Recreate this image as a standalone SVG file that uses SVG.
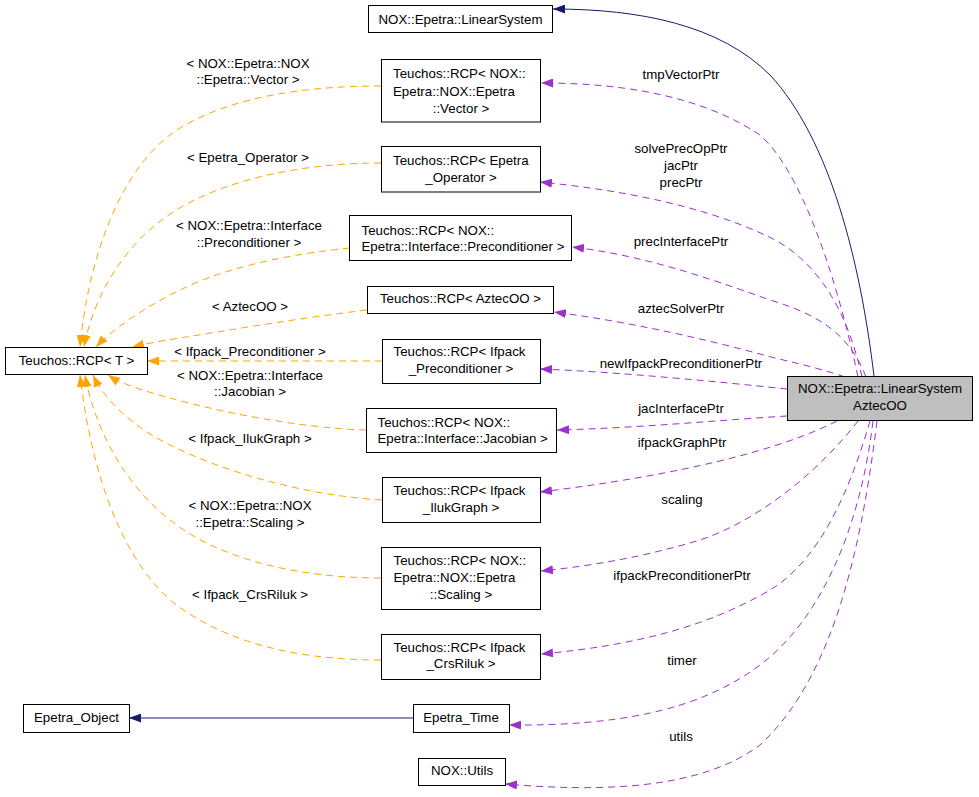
<svg xmlns="http://www.w3.org/2000/svg" width="979" height="797" viewBox="0 0 979 797">
<style>
text{font-family:"Liberation Sans",Arial,sans-serif;font-size:13.3px;fill:#000}
.m{text-anchor:middle}
.s{text-anchor:start}
.box{fill:#fff;stroke:#000;stroke-width:1}
.main{fill:#bfbfbf;stroke:#000;stroke-width:1}
.ep{fill:none;stroke:#9a32cd;stroke-width:1;stroke-dasharray:7,5}
.eo{fill:none;stroke:#ffa500;stroke-width:1;stroke-dasharray:7,5}
.eb{fill:none;stroke:#191970;stroke-width:1}
</style>
<defs>
<marker id="ap" viewBox="0 0 12 9" refX="12" refY="4.5" markerWidth="12" markerHeight="9" markerUnits="userSpaceOnUse" orient="auto"><path d="M0,0 L12,4.5 L0,9 z" fill="#9a32cd"/></marker>
<marker id="ao" viewBox="0 0 12 9" refX="12" refY="4.5" markerWidth="12" markerHeight="9" markerUnits="userSpaceOnUse" orient="auto"><path d="M0,0 L12,4.5 L0,9 z" fill="#ffa500"/></marker>
<marker id="ab" viewBox="0 0 12 9" refX="12" refY="4.5" markerWidth="12" markerHeight="9" markerUnits="userSpaceOnUse" orient="auto"><path d="M0,0 L12,4.5 L0,9 z" fill="#191970"/></marker>
</defs>
<rect width="979" height="797" fill="#fff"/>
<g id="edges">
<path class="eb" d="M874,376 C860,260 830,140 770,75 C720,25 640,9 553,9" marker-end="url(#ab)"/>
<path class="eb" d="M413,718 L129,718" marker-end="url(#ab)"/>
<path class="ep" d="M858,377 C835,270 800,170 760,135 C700,95 620,83 541,83" marker-end="url(#ap)"/>
<path class="ep" d="M862,377 C845,300 810,255 765,235 C700,205 620,190 540,182" marker-end="url(#ap)"/>
<path class="ep" d="M866,377 C850,335 820,315 770,300 C700,275 640,255 572,247" marker-end="url(#ap)"/>
<path class="ep" d="M845,377 C810,365 780,360 760,354 C700,338 630,322 554,312" marker-end="url(#ap)"/>
<path class="ep" d="M787,389 C720,382 620,372 540,369" marker-end="url(#ap)"/>
<path class="ep" d="M787,416 C720,420 640,428 557,430" marker-end="url(#ap)"/>
<path class="ep" d="M837,421 C780,450 680,475 540,492" marker-end="url(#ap)"/>
<path class="ep" d="M858,421 C820,470 760,520 700,540 C650,555 600,565 541,571" marker-end="url(#ap)"/>
<path class="ep" d="M870,421 C850,490 820,560 770,590 C710,625 640,645 541,654" marker-end="url(#ap)"/>
<path class="ep" d="M873,421 C860,530 820,620 760,665 C700,710 620,726 509,725" marker-end="url(#ap)"/>
<path class="ep" d="M877,421 C860,560 830,680 760,745 C700,790 600,792 505,784" marker-end="url(#ap)"/>
<path class="eo" d="M381,86 C300,86 230,98 180,128 C120,165 88,260 80,347" marker-end="url(#ao)"/>
<path class="eo" d="M381,163 C300,163 230,180 185,205 C130,235 95,290 84,347" marker-end="url(#ao)"/>
<path class="eo" d="M350,248 C280,255 220,270 180,290 C140,310 112,330 96,347" marker-end="url(#ao)"/>
<path class="eo" d="M367,310 C300,318 230,330 180,338 C160,341 145,344 132,347" marker-end="url(#ao)"/>
<path class="eo" d="M382,361 L147,361" marker-end="url(#ao)"/>
<path class="eo" d="M366,430 C300,428 220,412 170,398 C140,390 120,383 108,375" marker-end="url(#ao)"/>
<path class="eo" d="M382,500 C300,495 220,470 170,445 C130,425 105,400 93,375" marker-end="url(#ao)"/>
<path class="eo" d="M381,578 C300,578 220,560 170,520 C125,485 95,430 85,375" marker-end="url(#ao)"/>
<path class="eo" d="M381,660 C290,660 220,640 170,600 C115,550 90,460 80,375" marker-end="url(#ao)"/>
<g class="lbl">
<text class="m" x="681" y="79.3">tmpVectorPtr</text>
<text class="m" x="681" y="153">solvePrecOpPtr</text>
<text class="m" x="681" y="170">jacPtr</text>
<text class="m" x="681" y="187">precPtr</text>
<text class="m" x="681" y="246">precInterfacePtr</text>
<text class="m" x="681" y="313.3">aztecSolverPtr</text>
<text class="m" x="681" y="368.3">newIfpackPreconditionerPtr</text>
<text class="m" x="681" y="413.3">jacInterfacePtr</text>
<text class="m" x="682" y="446.7">ifpackGraphPtr</text>
<text class="m" x="682" y="504">scaling</text>
<text class="m" x="682" y="580">ifpackPreconditionerPtr</text>
<text class="m" x="682" y="665">timer</text>
<text class="m" x="681" y="741">utils</text>
<text class="m" x="248" y="67.5">&lt; NOX::Epetra::NOX</text>
<text class="m" x="248" y="84">::Epetra::Vector &gt;</text>
<text class="m" x="248" y="161.7">&lt; Epetra_Operator &gt;</text>
<text class="m" x="249" y="230">&lt; NOX::Epetra::Interface</text>
<text class="m" x="249" y="246.7">::Preconditioner &gt;</text>
<text class="m" x="250" y="310.7">&lt; AztecOO &gt;</text>
<text class="m" x="250" y="356">&lt; Ifpack_Preconditioner &gt;</text>
<text class="m" x="250" y="380">&lt; NOX::Epetra::Interface</text>
<text class="m" x="250" y="396">::Jacobian &gt;</text>
<text class="m" x="250" y="443.3">&lt; Ifpack_IlukGraph &gt;</text>
<text class="m" x="250" y="510">&lt; NOX::Epetra::NOX</text>
<text class="m" x="250" y="527.3">::Epetra::Scaling &gt;</text>
<text class="m" x="250" y="599.3">&lt; Ifpack_CrsRiluk &gt;</text>
</g>
</g>
<g id="n_main">
<rect class="main" x="787.5" y="376.5" width="185" height="44"/>
<text class="m" x="880" y="393.3">NOX::Epetra::LinearSystem</text>
<text class="m" x="880" y="410">AztecOO</text>
</g>
<g id="n_linsys">
<rect class="box" x="368.5" y="5.5" width="184" height="27"/>
<text class="m" x="460.5" y="23.5">NOX::Epetra::LinearSystem</text>
</g>
<g id="n_vector">
<rect class="box" x="381.5" y="59.5" width="159" height="62.5"/>
<text class="s" x="393" y="78">Teuchos::RCP&lt; NOX::</text>
<text class="s" x="393" y="95.5">Epetra::NOX::Epetra</text>
<text class="m" x="461" y="113">::Vector &gt;</text>
</g>
<g id="n_operator">
<rect class="box" x="381.5" y="146.5" width="159" height="45.5"/>
<text class="s" x="393" y="165">Teuchos::RCP&lt; Epetra</text>
<text class="m" x="461" y="181.5">_Operator &gt;</text>
</g>
<g id="n_precif">
<rect class="box" x="349.5" y="215.5" width="222" height="45"/>
<text class="s" x="361.5" y="234.5">Teuchos::RCP&lt; NOX::</text>
<text class="s" x="361.5" y="251">Epetra::Interface::Preconditioner &gt;</text>
</g>
<g id="n_aztec">
<rect class="box" x="367.5" y="286.5" width="186" height="27"/>
<text class="m" x="460.5" y="303.3">Teuchos::RCP&lt; AztecOO &gt;</text>
</g>
<g id="n_ifprec">
<rect class="box" x="382.5" y="339.5" width="158" height="44"/>
<text class="s" x="393.5" y="356">Teuchos::RCP&lt; Ifpack</text>
<text class="m" x="461" y="372.7">_Preconditioner &gt;</text>
</g>
<g id="n_jac">
<rect class="box" x="366.5" y="408.5" width="190" height="44"/>
<text class="s" x="377.5" y="426.7">Teuchos::RCP&lt; NOX::</text>
<text class="s" x="377.5" y="443.3">Epetra::Interface::Jacobian &gt;</text>
</g>
<g id="n_iluk">
<rect class="box" x="382.5" y="477.5" width="158" height="45"/>
<text class="s" x="393.5" y="495">Teuchos::RCP&lt; Ifpack</text>
<text class="m" x="461" y="511.7">_IlukGraph &gt;</text>
</g>
<g id="n_scaling">
<rect class="box" x="381.5" y="547.5" width="159" height="62"/>
<text class="s" x="393.5" y="565">Teuchos::RCP&lt; NOX::</text>
<text class="s" x="393.5" y="581.7">Epetra::NOX::Epetra</text>
<text class="m" x="461" y="599.3">::Scaling &gt;</text>
</g>
<g id="n_crs">
<rect class="box" x="381.5" y="634.5" width="159" height="45"/>
<text class="s" x="393.5" y="651.7">Teuchos::RCP&lt; Ifpack</text>
<text class="m" x="461" y="668.3">_CrsRiluk &gt;</text>
</g>
<g id="n_rcpT">
<rect class="box" x="5.5" y="347.5" width="142" height="27"/>
<text class="m" x="76.5" y="365">Teuchos::RCP&lt; T &gt;</text>
</g>
<g id="n_time">
<rect class="box" x="413.5" y="704.5" width="96" height="28"/>
<text class="m" x="461" y="721.7">Epetra_Time</text>
</g>
<g id="n_object">
<rect class="box" x="23.5" y="704.5" width="106" height="28"/>
<text class="m" x="76.5" y="721.7">Epetra_Object</text>
</g>
<g id="n_utils">
<rect class="box" x="418.5" y="758.5" width="87" height="27"/>
<text class="m" x="462" y="775">NOX::Utils</text>
</g>
</svg>
